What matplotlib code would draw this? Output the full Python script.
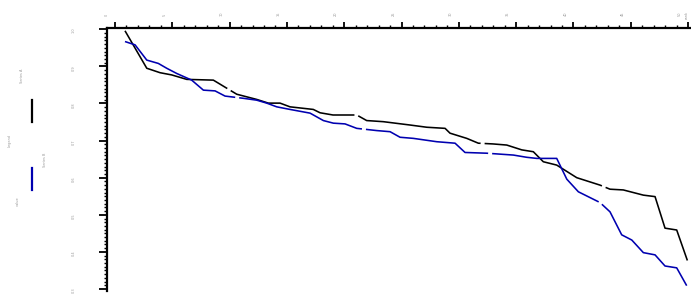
import matplotlib
matplotlib.use("Agg")
import matplotlib.pyplot as plt
from matplotlib.ticker import MultipleLocator
from matplotlib.lines import Line2D
import matplotlib.transforms as mtransforms

# ---- data ----
black_x = [0.87, 2.77, 3.93, 4.95, 6.26, 8.58, 10.62, 12.36, 13.38, 14.40, 15.27, 17.30,
           17.89, 19.02, 21.09, 21.96, 23.41, 25.74, 27.20, 28.80, 29.23, 30.69, 31.70,
           32.98, 34.18, 35.49, 36.50, 37.37, 38.54, 40.29, 42.32, 43.19, 44.35, 46.10,
           47.12, 47.99, 49.01, 50.03]
black_y = [0.996, 0.895, 0.883, 0.877, 0.865, 0.863, 0.825, 0.811, 0.801, 0.801, 0.791, 0.784,
           0.775, 0.769, 0.769, 0.754, 0.751, 0.742, 0.736, 0.733, 0.720, 0.706, 0.693,
           0.691, 0.688, 0.675, 0.670, 0.643, 0.634, 0.600, 0.580, 0.569, 0.567, 0.553,
           0.549, 0.464, 0.459, 0.369]
blue_x = [0.87, 1.75, 2.77, 3.78, 4.51, 5.38, 6.69, 7.71, 8.73, 9.60, 11.20, 12.36, 13.24,
          14.11, 15.27, 17.02, 18.18, 19.05, 20.07, 21.09, 22.84, 24.00, 24.87, 26.03,
          28.07, 29.67, 30.54, 32.43, 34.76, 35.92, 36.80, 38.54, 39.42, 40.43, 42.32,
          43.19, 44.21, 45.09, 46.10, 47.12, 47.99, 49.01, 49.88]
blue_y = [0.967, 0.958, 0.917, 0.908, 0.895, 0.881, 0.863, 0.836, 0.834, 0.820, 0.814, 0.809,
          0.801, 0.791, 0.784, 0.774, 0.754, 0.747, 0.745, 0.733, 0.727, 0.724, 0.709,
          0.706, 0.697, 0.693, 0.668, 0.666, 0.661, 0.655, 0.652, 0.652, 0.596, 0.562,
          0.533, 0.508, 0.446, 0.432, 0.398, 0.392, 0.362, 0.357, 0.309]
series_names = ["Series A", "Series B"]
series_colors = ["#000000", "#0000b0"]
x_ticks = [0, 5, 10, 15, 20, 25, 30, 35, 40, 45, 50]
y_ticks = [0.3, 0.4, 0.5, 0.6, 0.7, 0.8, 0.9, 1.0]

W, H = 691, 295
fig = plt.figure(figsize=(W / 100, H / 100), dpi=100)
ax = fig.add_axes([107 / W, 1 - 291 / H, (690 - 107) / W, (291 - 28) / H])

dash = (80, 2.5)
ax.plot(black_x, black_y, color=series_colors[0], lw=1.15, dashes=dash,
        solid_joinstyle="miter")
ax.plot(blue_x, blue_y, color=series_colors[1], lw=1.15, dashes=dash,
        solid_joinstyle="miter")

ax.set_xlim(-0.70, 50.17)
ax.set_ylim(0.2946, 1.0035)

for s in ["bottom", "right"]:
    ax.spines[s].set_visible(False)
for s in ["top", "left"]:
    ax.spines[s].set_linewidth(1.6)

ax.xaxis.tick_top()
ax.set_xticks(x_ticks)
ax.xaxis.set_minor_locator(MultipleLocator(1))
ax.set_yticks(y_ticks)
ax.yaxis.set_minor_locator(MultipleLocator(0.01))
ax.tick_params(axis="x", which="major", length=4, width=1.3, direction="out", pad=4.5,
               labelsize=2.5, labelcolor="#999999", labelrotation=90)
ax.tick_params(axis="x", which="minor", length=2.5, width=1.0, direction="out")
ax.tick_params(axis="y", which="major", length=5.5, width=1.3, direction="out", pad=17,
               labelsize=2.5, labelcolor="#999999", labelrotation=90)
ax.tick_params(axis="y", which="minor", length=2.5, width=1.0, direction="out")
ax.set_xticklabels([str(v) for v in x_ticks])
ax.set_yticklabels([f"{v:.1f}" for v in y_ticks])
offset = mtransforms.ScaledTranslation(-8 / 100, 0, fig.dpi_scale_trans)
for lbl in ax.get_xticklabels():
    lbl.set_transform(lbl.get_transform() + offset)

# axis title at top right
fig.text(687 / W, 1 - 15 / H, "rank", rotation=90, fontsize=2.5, color="#999999",
         ha="center", va="center")

# rotated legend on the left
fig.add_artist(Line2D([32 / W, 32 / W], [1 - 100 / H, 1 - 122 / H],
                      color=series_colors[0], lw=1.6, transform=fig.transFigure))
fig.add_artist(Line2D([32 / W, 32 / W], [1 - 168 / H, 1 - 190 / H],
                      color=series_colors[1], lw=1.6, transform=fig.transFigure))
fig.text(22 / W, 1 - 76 / H, series_names[0], rotation=90, fontsize=2.5, color="#999999",
         ha="center", va="center")
fig.text(45 / W, 1 - 160 / H, series_names[1], rotation=90, fontsize=2.5, color="#999999",
         ha="center", va="center")
fig.text(10 / W, 1 - 140 / H, "Legend", rotation=90, fontsize=2.5, color="#999999",
         ha="center", va="center")
fig.text(18 / W, 1 - 201 / H, "value", rotation=90, fontsize=2.5, color="#999999",
         ha="center", va="center")

fig.savefig("out.png", dpi=100)
